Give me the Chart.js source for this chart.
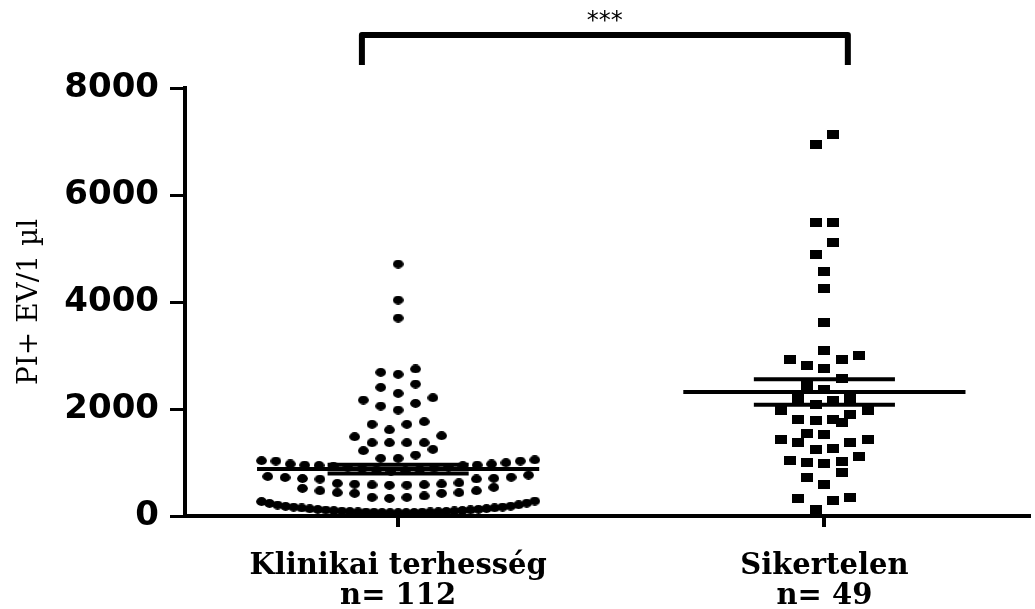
<!DOCTYPE html>
<html>
<head>
<meta charset="utf-8">
<script src="https://cdn.jsdelivr.net/npm/chart.js@4/dist/chart.umd.min.js"></script>
<style>
  html, body { margin: 0; padding: 0; background: #fff; }
  #wrap { width: 1035px; height: 609px; }
</style>
</head>
<body>
<div id="wrap"><canvas id="chart" width="1035" height="609"></canvas></div>
<script>
// ----- DATA -----
const groupLabels = [["Klinikai terhesség", "n= 112"], ["Sikertelen", "n= 49"]];
const yTicks = [0, 2000, 4000, 6000, 8000];
const significance = "***";

// Klinikai terhesség (n = 112), PI+ EV / 1 µl
const klinikai = [
  62, 63, 64, 65, 66, 70, 72, 74, 75, 78, 80, 84, 86, 92, 94, 101, 103, 112, 114,
  123, 125, 135, 138, 150, 152, 165, 168, 180, 184, 205, 210, 235, 240, 270, 280,
  330, 349, 349, 374, 424, 424, 436, 436, 473, 473, 517, 536,
  575, 578, 582, 586, 595, 600, 610, 620, 690, 692, 700, 705, 720, 725, 740, 765,
  840, 850, 860, 870, 885, 895, 905, 915, 930, 940,
  946, 953, 953, 972, 972, 996, 1028, 1028, 1034, 1050,
  1078, 1078, 1140, 1221, 1246,
  1370, 1370, 1370, 1370, 1482, 1501,
  1610, 1714, 1714, 1763,
  1981, 2056, 2106, 2168, 2211,
  2293, 2405, 2467,
  2649, 2686, 2748,
  3700, 4037, 4710
];

// Sikertelen (n = 49)
const sikertelen = [
  125, 299, 318, 349, 598, 723, 810,
  985, 997, 1028, 1034, 1121,
  1246, 1265, 1370, 1370, 1433, 1433,
  1527, 1545, 1745,
  1794, 1807, 1807, 1888, 1968, 1981,
  2093, 2168, 2187, 2187,
  2368, 2448, 2573,
  2760, 2822, 2916, 2928, 2991,
  3090, 3620, 4250, 4567, 4891, 5109, 5483, 5495, 6953, 7134
];

// ----- LAYOUT CONSTANTS -----
const X_MIN = 0.5, X_MAX = 2.48;
const PX_PER_X = 429;        // approx pixels per x unit in the plot area
const ROW_BAND = 235;        // values closer than this share a row
const DOT_GAP = 17.5;        // px between neighbours in a row
const MAX_ROW = 275;         // px, widest row allowed
const MEAN_HALF = 142 / PX_PER_X;
const SEM_HALF = 71 / PX_PER_X;

// prism-like scatter dot layout: rows, smallest value in the middle
function swarm(values, center) {
  const sorted = values.slice().sort((a, b) => a - b);
  const rows = [];
  let row = null;
  sorted.forEach((v) => {
    if (!row || v >= row[0] + ROW_BAND) {
      row = [v];
      rows.push(row);
    } else {
      row.push(v);
    }
  });
  const pts = [];
  rows.forEach((r) => {
    const n = r.length;
    const gap = n > 1 ? Math.min(DOT_GAP, MAX_ROW / (n - 1)) : 0;
    r.forEach((v, i) => {
      let slot;
      if (n % 2 === 1) {
        const k = Math.ceil(i / 2);
        slot = i % 2 === 1 ? -k : k;
      } else {
        const k = Math.floor(i / 2) + 0.5;
        slot = i % 2 === 0 ? -k : k;
      }
      pts.push({ x: center + (slot * gap) / PX_PER_X, y: v });
    });
  });
  return pts;
}

function mean(a) {
  return a.reduce((s, v) => s + v, 0) / a.length;
}
function sem(a) {
  const m = mean(a);
  const sd = Math.sqrt(a.reduce((s, v) => s + (v - m) * (v - m), 0) / (a.length - 1));
  return sd / Math.sqrt(a.length);
}

function hline(center, half, y) {
  return [{ x: center - half, y: y }, { x: center + half, y: y }];
}

// ----- MARKER SPRITES -----
function makeSprite(kind) {
  const c = document.createElement("canvas");
  const ctx = c.getContext("2d");
  if (kind === "dot") {
    c.width = 11; c.height = 9;
    ctx.fillStyle = "#000";
    ctx.beginPath();
    ctx.ellipse(5.5, 4.5, 5.4, 4.4, 0, 0, Math.PI * 2);
    ctx.fill();
  } else {
    c.width = 12; c.height = 9;
    ctx.fillStyle = "#000";
    ctx.fillRect(0, 0, 12, 9);
  }
  return c;
}
const dotSprite = makeSprite("dot");
const squareSprite = makeSprite("square");

// ----- DATASETS -----
const groups = [klinikai, sikertelen];
const lineSets = [];
groups.forEach((g, i) => {
  const c = i + 1, m = mean(g), e = sem(g);
  lineSets.push(hline(c, MEAN_HALF, m));
  lineSets.push(hline(c, SEM_HALF, m + e));
  lineSets.push(hline(c, SEM_HALF, m - e));
});

const datasets = lineSets.map((d) => ({
  data: d,
  showLine: true,
  borderColor: "#000",
  borderWidth: 4,
  borderCapStyle: "butt",
  pointRadius: 0,
  clip: false
}));

datasets.push({
  data: swarm(klinikai, 1),
  pointStyle: dotSprite,
  pointRadius: 5,
  clip: false
});
datasets.push({
  data: swarm(sikertelen, 2),
  pointStyle: squareSprite,
  pointRadius: 5,
  clip: false
});

// significance bracket above the plot
const bracketPlugin = {
  id: "bracket",
  afterDraw(chart) {
    const { ctx, scales } = chart;
    const x1 = scales.x.getPixelForValue(0.915);
    const x2 = scales.x.getPixelForValue(2.055);
    const top = 35, bottom = 65;
    ctx.save();
    ctx.strokeStyle = "#000";
    ctx.lineWidth = 6;
    ctx.lineJoin = "round";
    ctx.beginPath();
    ctx.moveTo(x1, bottom);
    ctx.lineTo(x1, top);
    ctx.lineTo(x2, top);
    ctx.lineTo(x2, bottom);
    ctx.stroke();
    ctx.fillStyle = "#000";
    ctx.font = "24px 'DejaVu Sans'";
    ctx.textAlign = "center";
    ctx.textBaseline = "middle";
    ctx.fillText(significance, (x1 + x2) / 2, 22);
    ctx.restore();
  }
};

new Chart(document.getElementById("chart"), {
  type: "scatter",
  data: { datasets },
  plugins: [bracketPlugin],
  options: {
    responsive: false,
    devicePixelRatio: 1,
    animation: false,
    layout: { padding: { top: 88, right: 0, bottom: 0, left: 0 } },
    plugins: { legend: { display: false }, tooltip: { enabled: false } },
    scales: {
      x: {
        type: "linear",
        min: X_MIN,
        max: X_MAX,
        afterBuildTicks: (scale) => {
          scale.ticks = groupLabels.map((_, i) => ({ value: i + 1 }));
        },
        afterFit: (scale) => { scale.height = 93; },
        grid: { drawOnChartArea: false, tickLength: 11, lineWidth: 4, color: "#000" },
        border: { display: true, width: 4, color: "#000" },
        ticks: {
          color: "#000",
          padding: 24,
          maxRotation: 0,
          font: { family: "'DejaVu Serif'", size: 29, weight: "bold", lineHeight: 1.05 },
          callback: (v, i) => groupLabels[i]
        }
      },
      y: {
        min: 0,
        max: 8000,
        afterBuildTicks: (scale) => {
          scale.ticks = yTicks.map((v) => ({ value: v }));
        },
        afterFit: (scale) => { scale.width = 185; },
        grid: { drawOnChartArea: false, tickLength: 15, lineWidth: 3, color: "#000" },
        border: { display: true, width: 4, color: "#000" },
        ticks: {
          color: "#000",
          padding: 11,
          font: { family: "'DejaVu Sans'", size: 34, weight: "bold" },
          callback: (v) => String(v)
        },
        title: {
          display: true,
          text: "PI+ EV/1 µl",
          color: "#000",
          padding: { top: 13, bottom: 0 },
          font: { family: "'DejaVu Serif'", size: 28, weight: "normal" }
        }
      }
    }
  }
});
</script>
</body>
</html>
